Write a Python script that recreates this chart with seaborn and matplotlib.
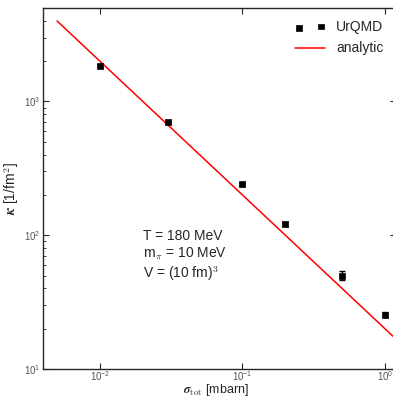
import numpy as np
import pandas as pd
import matplotlib
matplotlib.use("Agg")
import matplotlib.pyplot as plt
import matplotlib.ticker as mticker
import seaborn as sns

# data
sigma_tot = [0.01, 0.03, 0.1, 0.2, 0.5, 1.0]
kappa = [1850, 700, 240, 122, 50, 25.5]
kappa_err = [40, 15, 5, 4, 4, 1.2]

# analytic curve endpoints
sigma_line = [0.005, 1.2]
kappa_line = [4000, 16.7]

df = pd.DataFrame({"sigma": sigma_tot, "kappa": kappa, "err": kappa_err})
df_line = pd.DataFrame({"sigma": sigma_line, "kappa": kappa_line})

sns.set_style("ticks")
plt.rcParams["font.family"] = ["Liberation Sans", "DejaVu Sans"]
plt.rcParams["mathtext.fontset"] = "cm"
plt.rcParams["xtick.direction"] = "in"
plt.rcParams["ytick.direction"] = "in"

fig = plt.figure(figsize=(3.93, 3.99), dpi=100)
ax = fig.add_axes([0.110, 0.0752, 0.898, 0.9048])

ax.errorbar(df["sigma"], df["kappa"], yerr=df["err"], fmt="none",
            ecolor="black", elinewidth=1, capsize=2, zorder=3)
sns.scatterplot(data=df, x="sigma", y="kappa", marker="s", s=16,
                color="black", edgecolor="black", linewidth=0.5,
                label="UrQMD", ax=ax, zorder=4)
sns.lineplot(data=df_line, x="sigma", y="kappa", color="red", lw=1.1,
             label="analytic", ax=ax, zorder=2)

ax.set_xscale("log")
ax.set_yscale("log")
ax.set_xlim(0.004, 1.2)
ax.set_ylim(10, 5000)

ax.xaxis.set_major_locator(mticker.LogLocator(base=10))
ax.xaxis.set_minor_locator(mticker.NullLocator())
ax.tick_params(which="both", top=True, right=True, labelsize=7,
               labelcolor="#555555")
ax.tick_params(axis="x", pad=0.5)
ax.tick_params(axis="y", pad=2)
ax.tick_params(which="major", length=4, width=0.8)
ax.tick_params(which="minor", length=2, width=0.6)
for s in ax.spines.values():
    s.set_linewidth(1.0)

ax.set_xlabel(r"$\boldsymbol{\sigma}_{\rm tot}$ [mbarn]", fontsize=9,
              va="bottom")
ax.xaxis.set_label_coords(0.49, -0.079)
ax.set_ylabel(r"$\boldsymbol{\kappa}$ [1/fm$^2$]", fontsize=10, labelpad=2)

ax.text(0.02, 112, "T = 180 MeV\nm$_\\pi$ = 10 MeV\nV = (10 fm)$^3$",
        fontsize=10, va="top", ha="left", linespacing=1.2)

ax.legend(loc="upper right", frameon=False, fontsize=10, scatterpoints=2,
          handlelength=2.2, borderaxespad=0.5, bbox_to_anchor=(1.0, 1.0))

fig.savefig("out.png", dpi=100)
